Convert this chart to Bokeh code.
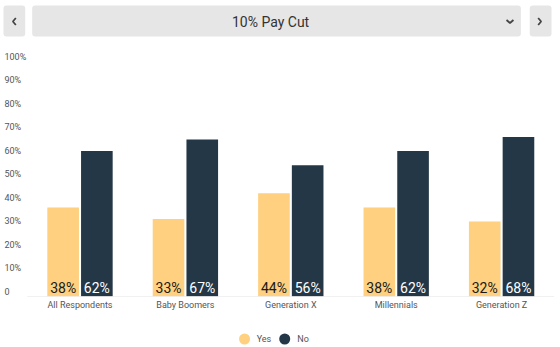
from bokeh.plotting import figure
from bokeh.layouts import column
from bokeh.models import Range1d, ColumnDataSource, FixedTicker
from bokeh.transform import dodge
from bokeh.core.properties import value
from bokeh.embed import file_html
from bokeh.resources import INLINE

# ---------------- data ----------------
title_text = "10% Pay Cut"
categories = ["All Respondents", "Baby Boomers", "Generation X", "Millennials", "Generation Z"]
series_names = ["Yes", "No"]
yes_values = [38, 33, 44, 38, 32]
no_values = [62, 67, 56, 62, 68]
y_ticks = [0, 10, 20, 30, 40, 50, 60, 70, 80, 90, 100]
y_tick_labels = ["0", "10%", "20%", "30%", "40%", "50%", "60%", "70%", "80%", "90%", "100%"]

# ---------------- style ----------------
FONT = "Roboto"
YES_COLOR = "#fed07f"
NO_COLOR = "#243746"
BOX_COLOR = "#e6e6e6"
TEXT_DARK = "#333333"
TEXT_GRAY = "#555555"
W = 560

# ---------------- header (dropdown-like bar) ----------------
header = figure(width=W, height=42, x_range=Range1d(0, W), y_range=Range1d(42, 0),
                output_backend="svg", toolbar_location=None,
                x_axis_location=None, y_axis_location=None,
                min_border=0, outline_line_color=None)
header.grid.visible = False
header.quad(left=[3, 32, 535], right=[25, 526, 557], top=[5, 5, 5], bottom=[36, 36, 36],
            fill_color=BOX_COLOR, line_color=None, border_radius=3)
header.text(x=[273], y=[21], text=[title_text], text_align="center", text_baseline="middle",
            text_font=value(FONT), text_font_size="14px", text_color=TEXT_DARK)
header.multi_line(xs=[[15.5, 12.5, 15.5], [511.5, 515, 518.5], [543.5, 546.5, 543.5]],
                  ys=[[17.5, 21, 24.5], [19.5, 22.5, 19.5], [17.5, 21, 24.5]],
                  line_color="#444444", line_width=1.8)

# ---------------- main chart ----------------
px_per_cat = 105.4
first_center_px = 79.5
frame_w = 554
x_start = -first_center_px / px_per_cat
x_end = (frame_w - first_center_px) / px_per_cat
px_per_unit = 2.345
frame_h = 254
y_end = frame_h / px_per_unit

idx = list(range(len(categories)))
src = ColumnDataSource(dict(
    idx=idx, cat=categories, yes=yes_values, no=no_values,
    yes_lbl=[f"{v}%" for v in yes_values], no_lbl=[f"{v}%" for v in no_values],
    base=[0] * len(categories),
))

p = figure(frame_width=frame_w, frame_height=frame_h,
           x_range=Range1d(x_start, x_end), y_range=Range1d(0, y_end),
           output_backend="svg", toolbar_location=None, y_axis_location=None,
           min_border_left=0, min_border_right=W - frame_w, min_border_top=0, min_border_bottom=24,
           outline_line_color=None)
p.grid.visible = False

bw = 0.30
off = 0.16
p.vbar(x=dodge("idx", -off, range=p.x_range), top="yes", width=bw, source=src,
       fill_color=YES_COLOR, line_color=None)
p.vbar(x=dodge("idx", off, range=p.x_range), top="no", width=bw, source=src,
       fill_color=NO_COLOR, line_color=None)

# baseline (axis line across plot area)
p.segment(x0=[-0.5], y0=[0], x1=[len(categories) - 0.5], y1=[0], line_color="#e3e3e3", line_width=1)

# value labels inside bars
p.text(x=dodge("idx", -off, range=p.x_range), y="base", text="yes_lbl", source=src,
       text_align="center", text_baseline="alphabetic", y_offset=-9,
       text_font=value(FONT), text_font_size="14px", text_color="#1a1a1a")
p.text(x=dodge("idx", off, range=p.x_range), y="base", text="no_lbl", source=src,
       text_align="center", text_baseline="alphabetic", y_offset=-9,
       text_font=value(FONT), text_font_size="14px", text_color="#ffffff")

# y tick labels (left aligned at the chart edge)
p.text(x=[x_start] * len(y_ticks), y=y_ticks, text=y_tick_labels,
       x_offset=4, y_offset=-5, text_align="left", text_baseline="alphabetic",
       text_font=value(FONT), text_font_size="9px", text_color=TEXT_GRAY)

# x axis with category labels
p.xaxis.ticker = FixedTicker(ticks=idx)
p.xaxis.major_label_overrides = {i: c for i, c in zip(idx, categories)}
p.xaxis.axis_line_color = None
p.xaxis.major_tick_line_color = None
p.xaxis.major_tick_out = 0
p.xaxis.major_tick_in = 0
p.xaxis.minor_tick_line_color = None
p.xaxis.minor_tick_out = 0
p.xaxis.major_label_standoff = 3
p.xaxis.major_label_text_font = FONT
p.xaxis.major_label_text_font_size = "9px"
p.xaxis.major_label_text_color = TEXT_GRAY

# ---------------- legend ----------------
leg = figure(width=W, height=27, x_range=Range1d(0, W), y_range=Range1d(27, 0),
             output_backend="svg", toolbar_location=None,
             x_axis_location=None, y_axis_location=None,
             min_border=0, outline_line_color=None)
leg.grid.visible = False
leg.scatter(x=[246.7, 287.3], y=[18.5, 18.5], size=11, marker="circle",
            fill_color=[YES_COLOR, NO_COLOR], line_color=None)
leg.text(x=[259, 300], y=[18.5, 18.5], text=series_names, text_align="left", text_baseline="middle",
         text_font=value(FONT), text_font_size="9px", text_color=TEXT_GRAY)

layout = column(header, p, leg, spacing=0)
open("out.html", "w").write(file_html(layout, INLINE))
